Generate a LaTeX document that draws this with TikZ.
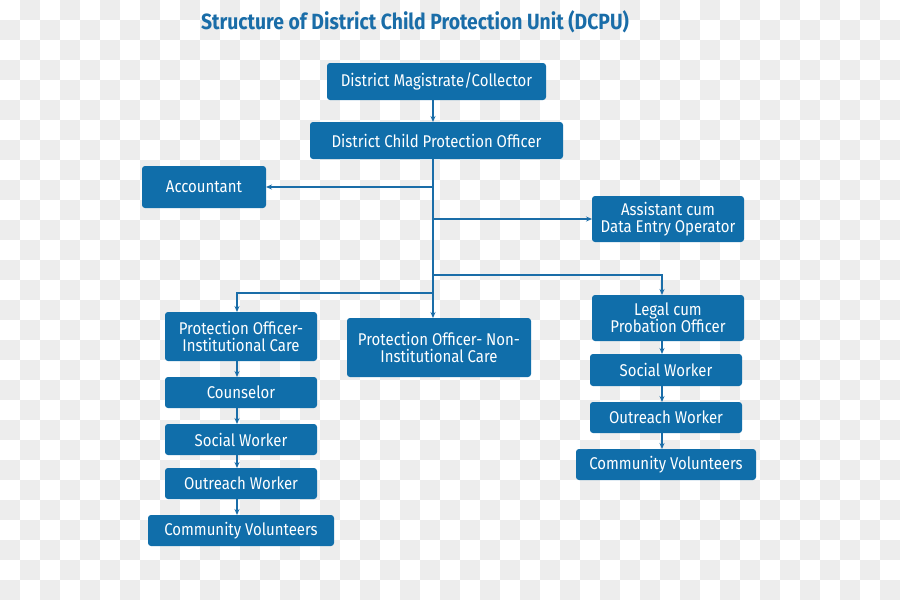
\documentclass[tikz,border=0pt]{standalone}
\usepackage{fontspec}
\setmainfont{Fira Sans}[FakeStretch=0.88]
\usetikzlibrary{arrows.meta,positioning}
\definecolor{dcpublue}{RGB}{16,110,170}
\definecolor{lineblue}{RGB}{26,109,168}
\definecolor{checker}{RGB}{237,237,237}

\begin{document}
\begin{tikzpicture}[x=1pt,y=-1pt,
            post/.style={rectangle,rounded corners=3pt,fill=dcpublue,text=white,align=center,
                             inner sep=0,outer sep=0,font=\fontsize{17}{17}\selectfont},
            link/.style={draw=lineblue,line width=1.3pt},
            arr/.style={link,-{Stealth[length=6pt,width=5pt]}}]
            \useasboundingbox (0,0) rectangle (900,600);
            \begin{scope}
            \clip (0,0) rectangle (900,600);
            \fill[white] (0,0) rectangle (900,600);
            \foreach \i in {0,2,...,44}{
                \foreach \j in {0,2,...,28}{
                \fill[checker] (\i*20+20,\j*20) rectangle +(20,20);
                \fill[checker] (\i*20,\j*20+20) rectangle +(20,20);
                }
            }
            \end{scope}
            %==================
            \node[text=lineblue,font=\bfseries\fontsize{22}{24}\selectfont] (title) at (415,22)
                {Structure of District Child Protection Unit (DCPU)};
            %==================
            \node[post,minimum width=219pt,minimum height=37pt] (dm) at (436.5,81.5) {District Magistrate/Collector};
            \node[post,minimum width=253pt,minimum height=37pt] (dcpo) at (436.5,140.5) {District Child Protection Officer};
            \node[post,minimum width=124pt,minimum height=42pt] (acc) at (204,187) {Accountant};
            \node[post,minimum width=152pt,minimum height=46pt] (ade) at (668,219) {Assistant cum\\Data Entry Operator};
            % ===================
            \node[post,minimum width=152pt,minimum height=49pt] (poic) at (241,336.5) {Protection Officer-\\Institutional Care};
            \node[post,minimum width=184pt,minimum height=59pt] (poni) at (439,347.5) {Protection Officer- Non-\\Institutional Care};
            \node[post,minimum width=152pt,minimum height=46pt] (legal) at (668,318) {Legal cum\\Probation Officer};
            % ===================
            \node[post,minimum width=152pt,minimum height=31pt,below=16pt of poic] (counsl) {Counselor};
            \node[post,minimum width=152pt,minimum height=31pt,below=16pt of counsl] (swl) {Social Worker};
            \node[post,minimum width=152pt,minimum height=31pt,below=13pt of swl] (owl) {Outreach Worker};
            \node[post,minimum width=186pt,minimum height=31pt,below=16pt of owl] (cvl) {Community Volunteers};
            \node[post,minimum width=152pt,minimum height=32pt] (swr) at (666,370) {Social Worker};
            \node[post,minimum width=152pt,minimum height=31pt,below=16pt of swr] (owr) {Outreach Worker};
            \node[post,minimum width=180pt,minimum height=31pt,below=16pt of owr] (cvr) {Community Volunteers};
            % ===================
            \coordinate (trunk) at (433,0);
            \coordinate (lcol) at (237,0);
            \coordinate (rcol) at (662,0);
            \coordinate (rjoin) at (0,275);
            \coordinate (ljoin) at (0,293);
            \draw[arr] (dm.south -| trunk) -- (dcpo.north -| trunk);
            \draw[arr] (dcpo.south -| trunk) -- (poni.north -| trunk);
            \draw[arr] (trunk |- acc.east) -- (acc.east);
            \draw[arr] (trunk |- ade.west) -- (ade.west);
            \draw[arr] (trunk |- rjoin) -| (legal.north -| rcol);
            \draw[arr] (trunk |- ljoin) -| (poic.north -| lcol);
            % ===================
            \foreach \a/\b in {poic/counsl,counsl/swl,swl/owl,owl/cvl}{
                \draw[arr] (\a.south -| lcol) -- (\b.north -| lcol);
            }
            \foreach \a/\b in {legal/swr,swr/owr,owr/cvr}{
                \draw[arr] (\a.south -| rcol) -- (\b.north -| rcol);
            }
        \end{tikzpicture}
\end{document}
